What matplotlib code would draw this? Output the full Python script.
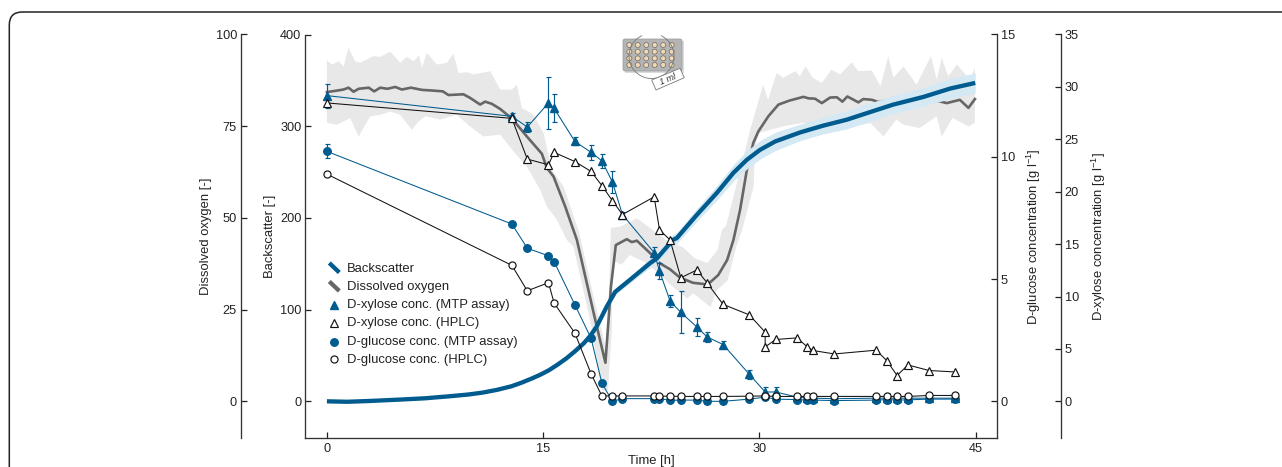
import numpy as np
import matplotlib
matplotlib.use("Agg")
import matplotlib.pyplot as plt
from matplotlib.patches import FancyBboxPatch, Rectangle, Circle, Arc, Polygon
from matplotlib.lines import Line2D

plt.rcParams['font.family'] = ['Liberation Sans', 'DejaVu Sans']
plt.rcParams['mathtext.default'] = 'regular'
plt.rcParams['mathtext.fontset'] = 'custom'
plt.rcParams['mathtext.rm'] = 'Liberation Sans'
plt.rcParams['mathtext.it'] = 'Liberation Sans:italic'

BLUE = '#005b8f'
GRAY = '#666666'
DARK = '#222222'

# ---- data ----
t_do = [0,.69,1.15,1.5,1.85,2.2,2.9,3.28,3.7,4.2,4.74,5.2,5.83,6.6,7.4,8.04,8.43,9.47,9.94,10.63,10.98,11.44,12.02,12.83,
        13.87,14.91,15.26,15.72,16.53,17.34,18.62,19.32,19.7,20.04,20.8,21.15,21.5,22.42,23.11,23.8,24.5,25.4,26.1,26.37,
        27.14,27.76,28.2,28.66,29.13,29.58,29.93,30.62,31.32,32.1,33.05,33.4,33.86,34.33,34.9,35.37,35.76,36.1,36.87,37.2,
        37.8,38.25,38.94,39.4,40.1,41.35,42.25,43,43.9,44.5,44.95]
do_mean = [84.3,84.7,85,85.5,84.4,85.2,85.5,84.5,85.5,85.2,85.7,85,85.5,84.9,84.7,84.5,83.5,83.7,82.7,80.9,81.7,81.1,79.7,77.1,
           72.2,67.5,63.6,61.3,53.1,44,22.1,10.5,31.2,42.6,44.2,43.4,43.8,40.4,37.6,36,33.7,32.3,32,31.7,
           34.4,38.5,44,52.2,63.1,70.5,73.6,77.7,80.9,82,83,82.6,82.5,81.3,82.8,82.9,81.7,83.1,81.5,82.4,
           82.2,81.6,82.2,82.9,82.2,82.8,82,81.3,82.2,80,82.4]

t_do_up = [0,.35,.81,1.16,1.5,1.96,2.31,3.24,3.7,4.39,5.09,5.55,6.01,6.4,6.59,6.93,7.63,8.32,8.78,9.13,9.71,10.17,11.33,12.02,
           12.83,13.18,13.52,14.33,15.03,15.6,16.41,17.5,18.5,19.45,19.7,20.34,21.5,22.5,23.5,24.7,25.5,26.4,27.1,27.4,27.7,
           28.6,29.36,30.26,30.6,31.2,31.66,32.5,32.8,33.2,33.7,34.33,35,35.6,36.4,36.85,37.8,38.4,38.94,39.3,40,40.9,41.9,
           42.3,42.65,43.1,43.7,44.6,44.95]
do_up = [93,91.8,92.7,91.3,96.4,92.7,92.3,94.1,93.9,95.3,92.3,93.9,92.7,94.3,90.9,95,91.8,92.3,94.8,89.5,89.7,89.1,90,85,
         85,86.3,80,78.1,73.1,63.1,58.6,46,28.5,13,47.3,47.6,49.9,47,44,42,39,37.7,41.3,46.7,48,
         62,74,86.3,82.2,89.5,88.2,90,88.6,91.3,88.2,86.8,90.4,89.1,92.4,90,90.2,85.9,94.1,88.2,91.3,86.3,94.1,
         87.7,93.6,88.6,91.8,87.7,90.9]

t_do_lo = [0,.69,1.62,2.2,3,3.7,4.39,5.09,5.89,6.36,6.82,7.86,9.01,9.94,10.86,12.02,12.95,13.87,14.79,15.26,15.95,16.64,17.1,
           18.26,19.07,19.5,19.76,19.8,20.44,21,22.17,22.9,24,25,25.4,26.6,27.05,27.8,28.4,28.8,29.6,29.7,30,31.66,33,
           35.5,37.7,38.6,39.5,40,41.1,42.3,42.65,43.4,44.5,44.95]
do_lo = [75.9,75.4,77.2,72.2,77.7,78.1,79,78.1,74,76.3,77.7,76.8,78.1,74.9,72.2,72.7,68.1,64,57.7,53.1,49.5,44,42.2,
         22.1,3,3,19.4,38.5,37.2,39.9,37.7,35.3,31.2,28,29.5,25.7,30.3,33,42.2,46.7,58.6,69.5,73.2,75,75.9,
         74,75.9,72.2,76.8,75.4,74.5,77.7,72.2,77.3,74.9,75.9]

t_bs = [0,1.4,3,5.08,6.8,8.5,9.8,10.8,11.8,12.8,13.5,14.2,14.8,15.4,16,16.6,17.2,17.8,18.25,18.7,19.05,19.4,20,21,21.7,22.4,22.9,24,24.27,25.66,
        27.05,28.2,29.13,30.05,31.1,32.82,34.4,36.06,37.7,39.27,41.37,43.22,44.97]
bs_mean = [0,-.5,.4,1.9,3.3,5.5,7.4,9.5,12.5,16.4,20.3,24.8,29,33.9,40,46.7,54.5,63,71,81.2,92,103,119.4,132.2,141.3,150.5,156,176,178,203.3,
           227.3,249.2,263.4,274.3,283.4,293.2,300.5,307.1,315.5,323.5,331.9,341,347.2]
bs_sd = [0,0,.1,.3,.4,.5,.5,.6,.7,.8,.9,1,1.2,1.5,1.8,2,2,2,2,2,2.2,2.5,3,3.5,4,5,5,6,6,7,
         8,9,10,10,10,9,9,10,10,10,10,11,11]

t_samples = [0,12.83,13.9,15.37,15.76,17.2,18.33,19.07,19.8,20.5,22.7,23.07,23.8,24.55,25.66,26.37,27.48,29.3,30.4,31.13,
             32.6,33.3,33.7,35.2,38.1,38.83,39.55,40.3,41.77,43.6]
t_xyl_hplc = [0,12.83,13.9,15.37,15.76,17.2,18.33,19.07,19.8,20.5,22.7,23.07,23.8,24.55,25.66,26.37,27.48,29.3,30.4,30.4,31.13,
              32.6,33.3,33.7,35.2,38.1,38.83,39.55,40.3,41.77,43.6]
xyl_hplc = [28.47,27,23.11,22.57,23.75,22.88,21.93,20.59,19.15,17.82,19.51,16.37,15.4,11.79,12.53,11.31,9.25,8.25,6.6,5.19,5.9,
            6.05,5.23,4.85,4.52,4.88,3.89,2.46,3.47,2.94,2.8]
xyl_mtp = [29.17,27.19,26.17,28.47,27.95,24.8,23.75,22.95,20.94,17.82,14.18,12.43,9.59,8.48,7.1,6.15,5.42,2.58,.89,.89,
           .41,.3,.3,.25,.3,.3,.3,.3,.3,.3]
xyl_mtp_err = [1.15,.33,.48,2.44,1.34,.38,.72,.67,1.05,.29,.57,.77,.57,2.0,.86,.48,.38,.43,.48,.48,
               .1,.1,.1,.1,.1,.5,.1,.2,.1,.1]
glu_mtp = [10.22,7.25,6.26,5.95,5.71,3.95,2.57,.75,0,.11,.11,.11,.04,.05,.05,0,0,.09,.17,.09,
           .07,.05,.05,.03,.05,.07,.05,.06,.09,.09]
glu_mtp_err = [.29,.05,.05,.05,.05,.05,.05,.05,.05,.05,.05,.05,.05,.05,.05,.05,.05,.05,.05,.05,
               .05,.05,.05,.05,.05,.05,.05,.05,.05,.05]
glu_hplc = [9.29,5.56,4.52,4.85,4.02,2.79,1.12,.22,.22,.22,.22,.21,.21,.2,.2,.2,.2,.21,.22,.2,
            .2,.2,.2,.2,.2,.2,.2,.2,.24,.24]

x_ticks = [0,15,30,45]
do_ticks = [0,25,50,75,100]
bs_ticks = [0,100,200,300,400]
glu_ticks = [0,5,10,15]
xyl_ticks = [0,5,10,15,20,25,30,35]
legend_labels = ['Backscatter','Dissolved oxygen','D-xylose conc. (MTP assay)','D-xylose conc. (HPLC)',
                 'D-glucose conc. (MTP assay)','D-glucose conc. (HPLC)']

# ---- layout ----
W, H = 1282, 467
L, R, T, B = 305.3, 996.7, 34.5, 438.0
fig = plt.figure(figsize=(W/100, H/100), dpi=100)
rect = [L/W, (H-B)/H, (R-L)/W, (B-T)/H]
ax_bs = fig.add_axes(rect)
ax_do = ax_bs.twinx()
ax_xyl = ax_bs.twinx()
ax_glu = ax_bs.twinx()
ax_do.set_zorder(1); ax_bs.set_zorder(2); ax_xyl.set_zorder(3); ax_glu.set_zorder(4)
for a in (ax_bs, ax_do, ax_xyl, ax_glu):
    a.patch.set_visible(False)
    for s in a.spines.values():
        s.set_visible(False)
    a.set_xlim(-1.498, 46.46)

ax_bs.set_ylim(-40, 400); ax_do.set_ylim(-10, 100); ax_glu.set_ylim(-1.5, 15); ax_xyl.set_ylim(-3.5, 35)

ax_bs.spines['left'].set_visible(True); ax_bs.spines['bottom'].set_visible(True)
ax_do.yaxis.tick_left(); ax_do.yaxis.set_label_position('left')
ax_do.spines['left'].set_visible(True); ax_do.spines['left'].set_position(('outward', 46.3))
ax_glu.yaxis.tick_right(); ax_glu.yaxis.set_label_position('right')
ax_glu.spines['right'].set_visible(True)
ax_xyl.yaxis.tick_right(); ax_xyl.yaxis.set_label_position('right')
ax_xyl.spines['right'].set_visible(True); ax_xyl.spines['right'].set_position(('outward', 46.1))

for a, tk in ((ax_bs, bs_ticks), (ax_do, do_ticks), (ax_glu, glu_ticks), (ax_xyl, xyl_ticks)):
    a.set_yticks(tk)
    a.tick_params(axis='y', direction='in', length=4.3, width=0.9, labelsize=9.2, pad=2.8,
                  color=DARK, labelcolor=DARK)
    for s in a.spines.values():
        s.set_linewidth(0.95); s.set_color('#333333')
ax_bs.set_xticks(x_ticks)
ax_bs.tick_params(axis='x', direction='in', length=4.3, width=0.9, labelsize=9.2, pad=3.5, color=DARK, labelcolor=DARK)
for a in (ax_do, ax_xyl, ax_glu):
    a.tick_params(axis='x', bottom=False, labelbottom=False)

fs = 9.4
ax_bs.set_xlabel('Time [h]', fontsize=fs, color=DARK)
ax_bs.xaxis.set_label_coords(0.5, -0.042)
ax_do.set_ylabel('Dissolved oxygen [-]', fontsize=fs, color=DARK)
ax_do.yaxis.set_label_coords((206-L)/(R-L), 0.5)
ax_bs.set_ylabel('Backscatter [-]', fontsize=fs, color=DARK)
ax_bs.yaxis.set_label_coords((270-L)/(R-L), 0.5)
ax_glu.set_ylabel('D-glucose concentration [g l$^{-1}$]', fontsize=fs, color=DARK, rotation=90)
ax_glu.yaxis.set_label_coords((1034-L)/(R-L), 0.5)
ax_xyl.set_ylabel('D-xylose concentration [g l$^{-1}$]', fontsize=fs, color=DARK, rotation=90)
ax_xyl.yaxis.set_label_coords((1099-L)/(R-L), 0.5)
for a in (ax_glu, ax_xyl, ax_bs, ax_do):
    a.yaxis.label.set_va('center'); a.yaxis.label.set_ha('center')

# dissolved oxygen
ax_do.fill(np.r_[t_do_up, t_do_lo[::-1]], np.r_[do_up, do_lo[::-1]], color='#e8e8e8', lw=0, zorder=1)
ax_do.plot(t_do, do_mean, color=GRAY, lw=1.9, zorder=2, solid_joinstyle='round')

# backscatter
bs_m, bs_s = np.array(bs_mean), np.array(bs_sd)
ax_bs.fill_between(t_bs, bs_m-bs_s, bs_m+bs_s, color='#d5e9f4', lw=0, zorder=1)
ax_bs.plot(t_bs, bs_m, color=BLUE, lw=3.1, zorder=2, solid_capstyle='butt')

# xylose
ax_xyl.errorbar(t_samples, xyl_mtp, yerr=xyl_mtp_err, color=BLUE, lw=0.75, elinewidth=0.85, capsize=1.8, capthick=0.85,
                marker='^', ms=5.8, mec=BLUE, mfc=BLUE, zorder=3)
ax_xyl.plot(t_xyl_hplc, xyl_hplc, color='#111111', lw=0.75, marker='^', ms=5.6, mec='#111111', mfc='white', mew=0.85, zorder=4)

# glucose
ax_glu.errorbar(t_samples, glu_mtp, yerr=glu_mtp_err, color=BLUE, lw=0.75, elinewidth=0.85, capsize=1.8, capthick=0.85,
                marker='o', ms=5.4, mec=BLUE, mfc=BLUE, zorder=3)
ax_glu.plot(t_samples, glu_hplc, color='#111111', lw=0.75, marker='o', ms=5.1, mec='#111111', mfc='white', mew=0.85, zorder=4)

# ---- overlay in pixel space: frame, legend, plate icon ----
ov = fig.add_axes([0, 0, 1, 1], zorder=10)
ov.set_xlim(0, W); ov.set_ylim(H, 0); ov.axis('off'); ov.patch.set_visible(False)

ov.add_patch(FancyBboxPatch((9.3+12, 12+12), 1500, 700, boxstyle='round,pad=12,rounding_size=13',
                            fc='none', ec='#222222', lw=1.1, clip_on=True))

rows = [268.6, 286.8, 305.0, 323.3, 341.6, 359.9]
for y, lab in zip(rows, legend_labels):
    ov.text(346.7, y, lab, fontsize=fs, color=DARK, va='center', ha='left')
ov.add_line(Line2D([329.3, 339.3], [263, 272.5], color=BLUE, lw=3.1, solid_capstyle='butt'))
ov.add_line(Line2D([329.3, 339.3], [281.5, 291], color=GRAY, lw=3.1, solid_capstyle='butt'))
ov.plot([334], [305.3], marker='^', ms=5.8, color=BLUE, mec=BLUE)
ov.plot([334], [323.3], marker='^', ms=5.4, mfc='white', mec='#111111', mew=0.85)
ov.plot([334], [341.7], marker='o', ms=5.4, color=BLUE, mec=BLUE)
ov.plot([334], [359.3], marker='o', ms=5.1, mfc='white', mec='#111111', mew=0.85)

# plate icon
ov.add_patch(Rectangle((625, 41), 59, 32, fc='#999999', ec='none', alpha=0.35))
ov.add_patch(FancyBboxPatch((624, 40), 57, 30, boxstyle='round,pad=1,rounding_size=2', fc='#b4b4b4', ec='#9a9a9a', lw=0.5))
for i in range(6):
    for j in range(4):
        ov.add_patch(Circle((629.3+8.47*i, 45+6.67*j), 2.5, fc='#f1d8b6', ec='#6e6a60', lw=0.5))
ov.add_patch(Arc((651.5, 56), 45, 45, theta1=-65, theta2=245, ec='#777777', lw=0.6))
ov.add_patch(Polygon([(651.7, 80), (680, 68.3), (684.3, 77.7), (656, 90)], closed=True, fc='white', ec='#777777', lw=0.6, zorder=5))
ov.text(668, 79, '1 ml', fontsize=6.5, style='italic', rotation=22, ha='center', va='center', color='#333333', zorder=6)

fig.savefig('out.png', dpi=100)
